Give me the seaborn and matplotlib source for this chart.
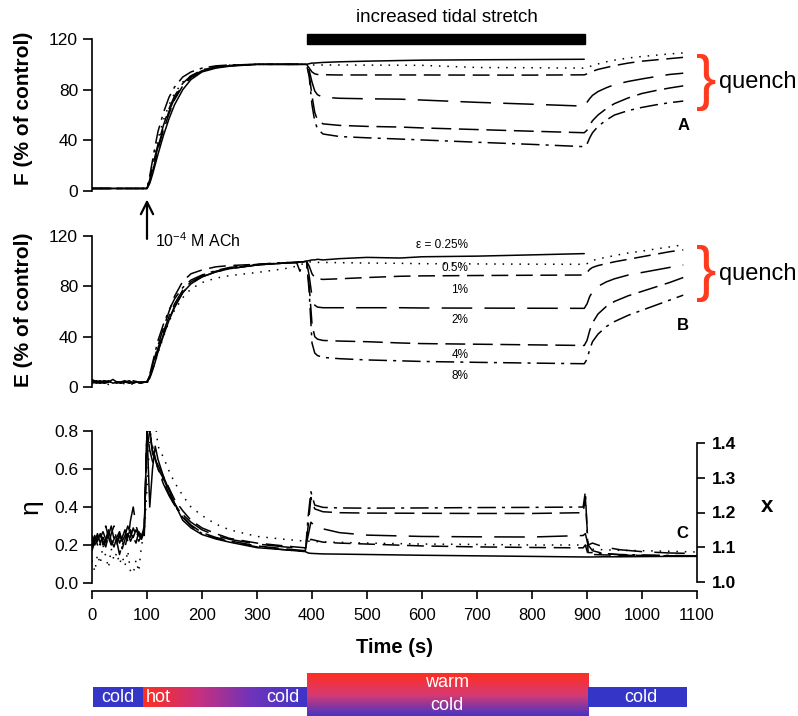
import numpy as np
import pandas as pd
import seaborn as sns
import matplotlib.pyplot as plt
from matplotlib.patches import Rectangle
from matplotlib.colors import LinearSegmentedColormap

strains = ["0.25%", "0.5%", "1%", "2%", "4%", "8%"]
strain_labels = ["\u03b5 = 0.25%", "0.5%", "1%", "2%", "4%", "8%"]
label_levels = [112.9, 94.6, 77.1, 53.3, 25.4, 8.7]

ach_time = 100
stretch_start, stretch_end = 391, 896
nan = np.nan

# panel A: force F (% of control)
t_a = [0, 50, 95, 100, 105, 110, 115, 120, 130, 140, 150, 165, 180, 200, 225, 250, 300, 350,
       390, 395, 400, 405, 410, 420, 450, 500, 560, 600, 700, 800, 895,
       900, 905, 910, 920, 935, 950, 975, 1000, 1025, 1050, 1075]
F_025 = [2, 2, 2, 2, 6, 13, 21, 29, 44, 57, 68, 80, 88, 94, 97, 98.5, 100, 100,
         100, 100.5, 101, 101, 101.2, 101.5, 102, 102.5, 103, 103.3, 103.6, 103.8, 104,
         nan, nan, nan, nan, nan, nan, nan, nan, nan, nan, nan]
F_05 = [2, 2, 2, 2, 11, 22, 32, 41, 56, 68, 77, 86, 91, 95.5, 98, 99.3, 100, 100,
        100, 99.8, 99.5, 99.5, 99.5, 99.5, 99.5, 99.4, 99.3, 99.2, 97.5, 97.3, 97,
        97.5, 98.3, 99, 100.3, 102, 103.3, 105, 106.2, 107.2, 108.2, 109]
F_1 = [2, 2, 2, 2, 7, 15, 24, 33, 48, 61, 72, 83, 89.5, 94.5, 97.5, 99, 100, 100,
       100, 97, 94, 92.5, 92, 91.8, 91.6, 91.6, 91.6, 91.6, 91.5, 91.5, 91.7,
       92.5, 93.5, 94.5, 96, 97.5, 99, 101, 102.5, 103.5, 104.5, 105.5]
F_2 = [2, 2, 2, 2, 8, 17, 26, 35, 50, 63, 73, 84, 90, 95, 97.5, 99, 100, 100,
       100, 95, 86, 79, 76, 74, 73.2, 72.8, 72.5, 71.8, 70, 68.5, 67,
       70, 73, 75.5, 78.5, 81.5, 84, 86.5, 88.5, 90.3, 92, 93]
F_4 = [2, 2, 2, 2, 9, 19, 28, 37, 52, 65, 75, 85, 91, 95.5, 98, 99, 100, 100,
       100, 92, 75, 62, 56, 53, 51.8, 51, 50.5, 49.8, 48.5, 47.2, 46,
       48, 52, 55.5, 60, 65, 69, 73.5, 77, 79.3, 81.3, 83]
F_8 = [2, 2, 2, 2, 12, 24, 36, 47, 62, 74, 82, 90, 94, 97, 98.8, 99.5, 100, 100,
       100, 90, 68, 55, 49, 45, 43, 42, 41, 40.3, 38.5, 36.8, 35,
       37, 42, 46, 51, 56, 60, 63.5, 66, 68, 69.7, 71]

# panel B: elastance E (% of control)
t_b = [0, 8, 15, 22, 30, 38, 45, 52, 60, 68, 75, 82, 90, 97,
       100, 105, 110, 115, 120, 130, 140, 150, 165, 180, 200, 225, 250, 300, 350,
       372, 378, 384, 390, 395, 400, 405, 410, 420, 450, 500, 560, 600, 700, 800, 895,
       900, 905, 910, 920, 935, 950, 975, 1000, 1025, 1050, 1075]
E_025 = [5, 4, 5, 3, 4, 6, 4, 3, 4, 5, 3, 4, 4, 4,
         4, 7, 13, 20, 28, 41, 53, 63, 75, 82, 87.5, 91.5, 94, 97, 98.5,
         99, 99.5, 99.5, 100, 100.5, 101, 101, 101.5, 101, 102, 103, 102.5, 103.5, 104, 105, 106,
         nan, nan, nan, nan, nan, nan, nan, nan, nan, nan, nan]
E_05 = [3, 2, 4, 3, 2, 3, 4, 2, 3, 3, 2, 3, 3, 3,
        3, 7, 13, 20, 27, 40, 52, 61, 71, 78, 83, 86.5, 88.5, 91, 94,
        96, 97, 98, 99, 99.5, 99.3, 99, 99, 99, 98.8, 98.5, 98.3, 98, 97.8, 97.6, 97.5,
        98, 99.5, 100.5, 101.8, 103, 104.5, 106.5, 108, 109.7, 111.3, 113]
E_1 = [4, 3, 4, 5, 3, 4, 3, 4, 5, 3, 4, 3, 4, 4,
       4, 9, 17, 25, 33, 47, 60, 72, 84, 90, 93, 95.5, 96.5, 97.5, 98.5,
       99, 99, 99.5, 100, 96, 90, 87, 86, 85.5, 86, 87, 88, 88.3, 88.6, 88.8, 89,
       91, 93.5, 95, 96.5, 98, 99.5, 101.5, 103.5, 105.5, 107.5, 109]
E_2 = [5, 4, 3, 4, 5, 3, 4, 4, 3, 4, 5, 4, 3, 4,
       4, 8, 14, 21, 29, 42, 54, 64, 75, 82.5, 87.5, 91.5, 94, 97, 98.5,
       99, 92, 99, 100, 88, 72, 65, 63.5, 63, 63, 63, 63, 62.8, 62.7, 62.6, 62.5,
       66, 72, 75.5, 80, 83.5, 86, 89, 91, 93, 95, 97]
E_4 = [4, 5, 4, 3, 4, 4, 5, 3, 4, 4, 3, 5, 4, 4,
       4, 9, 16, 23, 31, 44, 56, 66, 77, 83.5, 88.5, 92, 94.5, 97, 98.5,
       99, 99.5, 99.5, 100, 80, 50, 40, 38, 37, 36.5, 36, 35, 34.5, 34, 33.5, 33,
       37, 45, 51, 58, 64, 68, 72.5, 76, 79.5, 83, 87]
E_8 = [6, 4, 3, 5, 4, 3, 4, 5, 4, 3, 4, 4, 3, 4,
       4, 10, 19, 28, 37, 50, 61, 70, 79, 85, 89, 92.5, 95, 97.5, 99,
       99, 99.5, 99.5, 100, 75, 35, 27, 25, 23.5, 22.5, 21.5, 20.8, 20.3, 19.6, 19, 18.5,
       22, 30, 36, 42, 48, 52, 57, 61, 65, 69, 73]

# panel C: hysteresivity eta
t_c = [0, 5, 10, 15, 20, 25, 30, 35, 40, 45, 50, 55, 60, 65, 70, 75, 80, 85, 90, 95,
       100, 105, 110, 115, 120, 130, 140, 150, 165, 180, 200, 225, 250, 300, 350, 388,
       393, 398, 405, 420, 450, 500, 600, 700, 800, 893,
       897, 902, 910, 930, 960, 1000, 1050, 1100]
H_025 = [0.2, 0.24, 0.22, 0.26, 0.2, 0.23, 0.28, 0.22, 0.19, 0.24, 0.27, 0.22, 0.25, 0.3, 0.26, 0.24, 0.28, 0.25, 0.23, 0.27,
         0.8, 0.4, 0.6, 0.72, 0.65, 0.56, 0.49, 0.42, 0.33, 0.29, 0.255, 0.232, 0.215, 0.186, 0.175, 0.165,
         0.158, 0.156, 0.155, 0.153, 0.152, 0.15, 0.146, 0.143, 0.14, 0.137,
         0.137, 0.137, 0.137, 0.138, 0.138, 0.139, 0.14, 0.14]
H_05 = [0.12, 0.06, 0.15, 0.1, 0.2, 0.14, 0.08, 0.18, 0.12, 0.16, 0.1, 0.14, 0.09, 0.17, 0.06, 0.05, 0.12, 0.06, 0.2, 0.25,
        0.5, 0.75, 0.85, 0.85, 0.72, 0.66, 0.59, 0.53, 0.46, 0.4, 0.355, 0.31, 0.28, 0.245, 0.23, 0.22,
        0.22, 0.22, 0.218, 0.216, 0.214, 0.21, 0.205, 0.203, 0.2, 0.2,
        0.2, 0.185, 0.178, 0.175, 0.172, 0.17, 0.167, 0.163]
H_1 = [0.22, 0.25, 0.2, 0.24, 0.27, 0.23, 0.2, 0.26, 0.3, 0.22, 0.25, 0.18, 0.23, 0.27, 0.24, 0.29, 0.25, 0.22, 0.25, 0.28,
       0.7, 0.8, 0.7, 0.66, 0.62, 0.56, 0.5, 0.44, 0.38, 0.33, 0.29, 0.26, 0.235, 0.21, 0.195, 0.185,
       0.2, 0.23, 0.225, 0.215, 0.21, 0.205, 0.195, 0.19, 0.187, 0.185,
       0.2, 0.15, 0.15, 0.148, 0.146, 0.145, 0.143, 0.142]
H_2 = [0.18, 0.22, 0.26, 0.21, 0.25, 0.3, 0.24, 0.2, 0.23, 0.27, 0.21, 0.24, 0.28, 0.22, 0.33, 0.4, 0.3, 0.26, 0.24, 0.3,
       0.8, 0.8, 0.68, 0.65, 0.6, 0.52, 0.46, 0.41, 0.36, 0.32, 0.28, 0.25, 0.23, 0.205, 0.19, 0.18,
       0.25, 0.32, 0.3, 0.285, 0.265, 0.252, 0.245, 0.243, 0.242, 0.25,
       0.26, 0.2, 0.21, 0.19, 0.175, 0.165, 0.158, 0.155]
H_4 = [0.25, 0.2, 0.23, 0.27, 0.22, 0.19, 0.25, 0.3, 0.23, 0.2, 0.26, 0.22, 0.19, 0.25, 0.28, 0.24, 0.21, 0.27, 0.25, 0.29,
       0.8, 0.7, 0.64, 0.62, 0.6, 0.55, 0.48, 0.42, 0.35, 0.305, 0.265, 0.24, 0.222, 0.195, 0.18, 0.17,
       0.3, 0.45, 0.39, 0.375, 0.37, 0.368, 0.367, 0.366, 0.366, 0.37,
       0.45, 0.2, 0.17, 0.155, 0.148, 0.145, 0.143, 0.142]
H_8 = [0.17, 0.22, 0.25, 0.2, 0.24, 0.21, 0.26, 0.23, 0.2, 0.22, 0.15, 0.2, 0.24, 0.26, 0.22, 0.25, 0.27, 0.24, 0.26, 0.25,
       0.8, 0.8, 0.72, 0.66, 0.6, 0.54, 0.47, 0.41, 0.345, 0.3, 0.26, 0.235, 0.218, 0.19, 0.175, 0.165,
       0.35, 0.48, 0.41, 0.398, 0.395, 0.394, 0.395, 0.397, 0.398, 0.4,
       0.48, 0.16, 0.16, 0.155, 0.15, 0.147, 0.145, 0.143]

# temperature bar under the time axis
phase_edges = [2, 93, 391, 902, 1082]
cold_color = "#3535c8"
red_color = "#ff2f1f"

dashes = {"0.25%": "", "0.5%": (1, 4.5), "1%": (11, 5), "2%": (20, 8),
          "4%": (13, 5), "8%": (12, 4, 2, 4)}


def long_frame(t, series):
    parts = [pd.DataFrame({"time": t, "value": v, "strain": s}) for s, v in zip(strains, series)]
    return pd.concat(parts).dropna()


def draw_lines(ax, df):
    sns.lineplot(data=df, x="time", y="value", style="strain", style_order=strains,
                 dashes=dashes, color="black", lw=1.1, estimator=None, sort=False,
                 legend=False, ax=ax)


sns.set_theme(style="ticks", rc={"axes.edgecolor": "black", "xtick.color": "black",
                                 "ytick.color": "black", "text.color": "black",
                                 "axes.labelcolor": "black", "axes.linewidth": 1.2})
plt.rcParams["font.family"] = ["Liberation Sans", "DejaVu Sans"]
plt.rcParams["mathtext.default"] = "regular"

W, H = 798, 716
fig = plt.figure(figsize=(W / 100, H / 100), dpi=100)
left, width = 92 / W, 605 / W
ax_a = fig.add_axes([left, 1 - 191 / H, width, 152 / H])
ax_b = fig.add_axes([left, 1 - 387 / H, width, 151 / H])
ax_c = fig.add_axes([left, 1 - 591 / H, width, 160 / H])
for ax in (ax_a, ax_b, ax_c):
    ax.patch.set_visible(False)

draw_lines(ax_a, long_frame(t_a, [F_025, F_05, F_1, F_2, F_4, F_8]))
draw_lines(ax_b, long_frame(t_b, [E_025, E_05, E_1, E_2, E_4, E_8]))
draw_lines(ax_c, long_frame(t_c, [H_025, H_05, H_1, H_2, H_4, H_8]))

for ax, lab, ly in [(ax_a, "F (% of control)", 0.546), (ax_b, "E (% of control)", 0.51)]:
    ax.set_xlim(0, 1100)
    ax.set_ylim(0, 120)
    ax.set_yticks([0, 40, 80, 120])
    ax.set_xticks([])
    for s in ["top", "right", "bottom"]:
        ax.spines[s].set_visible(False)
    ax.tick_params(axis="y", direction="out", length=6.5, width=1.2, pad=3.5, labelsize=12.5)
    ax.set_xlabel("")
    ax.set_ylabel(lab, fontsize=15, fontweight="bold")
    ax.yaxis.set_label_coords(-0.114, ly)
    ax.yaxis.label.set_va("center")
    ax.text(1116, 86 if ax is ax_a else 90, "}", fontsize=44, color="#ff3b1f",
            ha="center", va="center")
    ax.text(1140, 86 if ax is ax_a else 90, "quench", fontsize=17, ha="left", va="center")

ax_a.text(1075, 52, "A", fontsize=12, fontweight="bold", ha="center", va="center")
ax_b.text(1075, 49, "B", fontsize=12, fontweight="bold", ha="center", va="center")

# stretch bar and ACh arrow
ax_a.add_patch(Rectangle((stretch_start, 116), stretch_end - stretch_start, 8,
                         color="black", clip_on=False))
ax_a.text((stretch_start + stretch_end) / 2 + 1, 136.6, "increased tidal stretch",
          fontsize=13.5, ha="center", va="center")
ax_a.annotate("", xy=(ach_time, -4.5), xytext=(ach_time, -40), annotation_clip=False,
              arrowprops=dict(arrowstyle="->", lw=1.6, color="black", mutation_scale=22),
              zorder=10)
ax_a.text(ach_time + 14.5, -39.5, "10$^{-4}$ M ACh", fontsize=11.5, ha="left", va="center",
          zorder=10)

for lab, lev in zip(strain_labels, label_levels):
    ax_b.text(684, lev, lab, fontsize=8.5, ha="right", va="center")

# panel C axes
ax_c.set_xlim(0, 1100)
ax_c.set_ylim(-0.8 * 8 / 152, 0.8)
ax_c.set_yticks([0, 0.2, 0.4, 0.6, 0.8])
ax_c.set_yticklabels([f"{v:.1f}" for v in [0, 0.2, 0.4, 0.6, 0.8]])
ax_c.set_xticks(range(0, 1101, 100))
ax_c.spines["left"].set_bounds(0, 0.8)
ax_c.spines["top"].set_visible(False)
ax_c.spines["right"].set_visible(False)
ax_c.tick_params(axis="y", direction="out", length=6.5, width=1.2, pad=3.5, labelsize=12.5)
ax_c.tick_params(axis="x", direction="out", length=5.5, width=1.2, pad=7, labelsize=12)
ax_c.set_ylabel("\u03b7", fontsize=19)
ax_c.yaxis.set_label_coords(-0.101, 0.525)
ax_c.yaxis.label.set_va("center")
ax_c.set_xlabel("Time (s)", fontsize=14.5, fontweight="bold")
ax_c.xaxis.set_label_coords(0.5, -0.356)
ax_c.xaxis.label.set_va("center")
ax_c.text(1073, 0.258, "C", fontsize=12, fontweight="bold", ha="center", va="center")

ax_x = ax_c.twinx()
ax_x.patch.set_visible(False)
ax_x.set_ylim(1.0 - 9 * 0.4 / 139, 1.4 + 12 * 0.4 / 139)
ax_x.set_yticks([1.0, 1.1, 1.2, 1.3, 1.4])
ax_x.set_yticklabels(["1.0", "1.1", "1.2", "1.3", "1.4"], fontweight="bold")
ax_x.spines["right"].set_bounds(1.0, 1.4)
for s in ["top", "bottom", "left"]:
    ax_x.spines[s].set_visible(False)
ax_x.tick_params(axis="y", direction="out", length=6, width=1.2, pad=5, labelsize=12.5)
ax_x.set_ylabel("x", fontsize=16, fontweight="bold", rotation=0)
ax_x.yaxis.set_label_coords(1.1157, 0.525)
ax_x.yaxis.label.set_va("center")
ax_x.yaxis.label.set_ha("center")

# temperature bar
ax_t = fig.add_axes([left, 0, width, 43 / H])
hot_cmap = LinearSegmentedColormap.from_list("hot_cold", [red_color, "#c9307c", "#6e34bc", "#3f34c6"])
warm_cmap = LinearSegmentedColormap.from_list("warm_cold", ["#4534c6", "#d83a72", red_color])
grad = np.linspace(0, 1, 256)
lo, hi = 9 / 43, 29 / 43
ax_t.add_patch(Rectangle((phase_edges[0], lo), phase_edges[1] - phase_edges[0], hi - lo,
                         color=cold_color, lw=0))
ax_t.imshow(grad[None, :], cmap=hot_cmap, aspect="auto",
            extent=(phase_edges[1], phase_edges[2], lo, hi))
ax_t.imshow(grad[:, None], cmap=warm_cmap, aspect="auto", origin="lower",
            extent=(phase_edges[2], phase_edges[3], 0, 1))
ax_t.add_patch(Rectangle((phase_edges[3], lo), phase_edges[4] - phase_edges[3], hi - lo,
                         color=cold_color, lw=0))
ax_t.set_xlim(0, 1100)
ax_t.set_ylim(0, 1)
ax_t.axis("off")
mid = (lo + hi) / 2
tkw = dict(color="white", fontsize=13, va="center")
ax_t.text(47, mid, "cold", ha="center", **tkw)
ax_t.text(98, mid, "hot", ha="left", **tkw)
ax_t.text(347, mid, "cold", ha="center", **tkw)
ax_t.text(645, 0.79, "warm", ha="center", **tkw)
ax_t.text(645, 0.24, "cold", ha="center", **tkw)
ax_t.text(998, mid, "cold", ha="center", **tkw)

fig.savefig("out.png", dpi=100)
